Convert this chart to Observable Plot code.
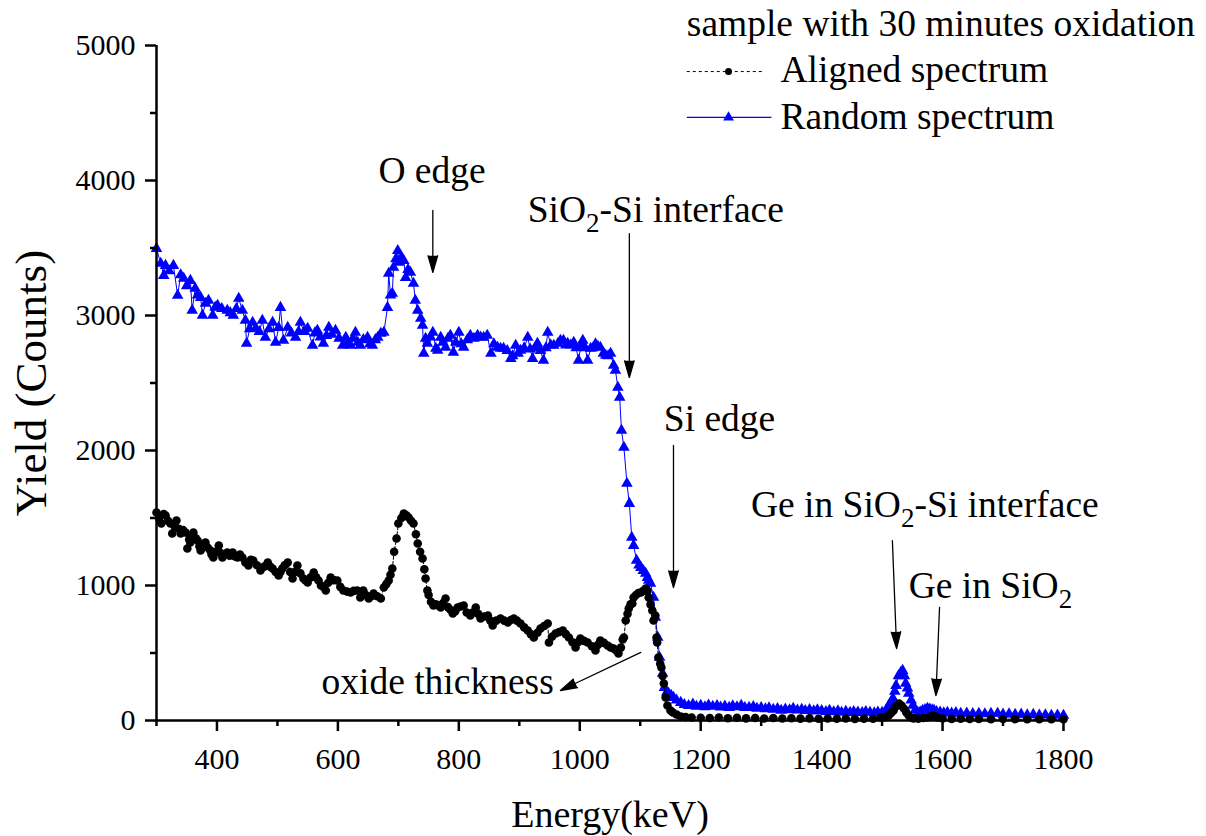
<!DOCTYPE html>
<html><head><meta charset="utf-8">
<script src="https://cdn.jsdelivr.net/npm/d3@7"></script>
<script src="https://cdn.jsdelivr.net/npm/@observablehq/plot@0.6"></script>
<style>
html,body{margin:0;padding:0;background:#fff;}
#chart{width:1206px;height:836px;overflow:hidden;}
#chart svg text{font-family:'Liberation Serif','Times New Roman',serif;}
</style></head><body><div id="chart"></div>
<script>
// Random spectrum: [energy keV, yield counts]
const randomSpectrum = [
[300,3496],[307,3385],[312,3296],[315,3370],[321,3330],[328,3370],[335,3148],[340,3300],[345,3274],[350,3220],
[356,3259],[359,3037],[364,3200],[368,3150],[373,3133],[376,3000],[381,3090],[386,3111],[393,3000],[397,3060],
[401,3074],[408,3050],[417,3037],[422,3020],[427,3000],[432,3050],[436,3126],[442,3037],[447,2963],[449,2793],
[454,2900],[459,2948],[464,2904],[470,2880],[475,2963],[480,2837],[486,2900],[492,2948],[497,2800],[502,2910],
[505,3059],[510,2815],[517,2911],[523,2870],[530,2837],[535,2880],[538,2948],[544,2880],[550,2904],[558,2778],
[562,2870],[566,2889],[571,2840],[576,2793],[581,2850],[585,2911],[590,2860],[596,2889],[602,2830],[608,2778],
[613,2837],[617,2800],[621,2778],[625,2830],[629,2874],[633,2800],[637,2778],[642,2820],[649,2837],[653,2790],
[657,2778],[662,2820],[666,2837],[671,2867],[676,2874],[682,3059],[684,3311],[687,3150],[690,3163],[692,3356],
[696,3420],[699,3481],[701,3393],[705,3430],[709,3407],[712,3281],[716,3340],[720,3319],[725,3237],[728,3111],
[732,3037],[737,2978],[740,2926],[742,2719],[745,2830],[748,2793],[753,2840],[757,2874],[762,2756],[765,2741],
[770,2837],[774,2800],[778,2763],[782,2830],[786,2852],[791,2726],[795,2800],[800,2874],[804,2790],[808,2763],
[814,2820],[819,2852],[825,2830],[831,2852],[836,2840],[841,2837],[847,2852],[853,2719],[858,2790],[864,2763],
[869,2756],[874,2756],[880,2740],[886,2681],[889,2700],[894,2778],[898,2720],[902,2741],[908,2760],[914,2837],
[918,2750],[922,2681],[926,2760],[930,2793],[935,2740],[940,2667],[944,2760],[947,2874],[952,2780],[957,2778],
[964,2793],[968,2815],[973,2815],[977,2780],[980,2793],[985,2780],[990,2800],[994,2760],[998,2667],[1002,2780],
[1005,2815],[1009,2760],[1013,2667],[1018,2756],[1022,2760],[1026,2790],[1030,2770],[1034,2763],[1039,2720],[1043,2704],
[1047,2700],[1051,2719],[1056,2630],[1059,2593],[1063,2467],[1066,2393],[1069,2148],[1073,2022],[1078,1756],[1082,1607],
[1086,1356],[1089,1296],[1094,1185],[1098,1150],[1101,1133],[1105,1110],[1109,1089],[1112,1059],[1114,1037],[1117,1015],
[1122,911],[1125,763],[1129,615],[1132,467],[1137,348],[1140,244],[1144,210],[1147,200],[1151,185],[1155,170],
[1160,150],[1167,133],[1173,118],[1180,110],[1187,120],[1193,105],[1200,111],[1207,100],[1213,114],[1220,104],
[1227,110],[1233,98],[1240,106],[1247,96],[1253,108],[1260,100],[1267,112],[1273,95],[1280,96],[1287,102],
[1293,90],[1300,95],[1307,86],[1313,93],[1320,82],[1327,88],[1333,74],[1340,84],[1347,78],[1353,90],
[1360,76],[1367,82],[1373,72],[1380,80],[1387,70],[1393,78],[1400,72],[1407,66],[1413,74],[1420,64],
[1427,70],[1433,60],[1440,68],[1447,59],[1453,66],[1460,62],[1467,58],[1473,65],[1480,60],[1487,56],
[1493,62],[1500,60],[1507,80],[1511,111],[1515,140],[1518,163],[1521,215],[1523,259],[1527,330],[1531,356],
[1534,370],[1537,330],[1539,274],[1542,240],[1544,200],[1548,150],[1551,111],[1555,80],[1559,59],[1563,62],
[1567,75],[1571,80],[1575,89],[1579,84],[1583,78],[1586,74],[1590,66],[1596,62],[1602,56],[1608,59],
[1615,54],[1622,58],[1630,52],[1640,55],[1650,50],[1660,53],[1670,48],[1680,52],[1691,52],[1700,46],
[1710,49],[1720,44],[1730,46],[1740,42],[1750,44],[1760,40],[1770,42],[1780,38],[1790,40],[1800,37]
];

// Aligned spectrum: [energy keV, yield counts]
const alignedSpectrum = [
[300,1541],[304,1500],[308,1459],[312,1530],[315,1519],[319,1480],[323,1459],[326,1385],[330,1440],[333,1481],
[337,1420],[340,1385],[344,1410],[348,1393],[351,1274],[354,1340],[356,1319],[359,1360],[361,1393],[365,1350],
[368,1333],[371,1290],[373,1259],[377,1300],[381,1319],[385,1280],[389,1259],[391,1230],[394,1207],[398,1250],
[403,1296],[406,1240],[409,1207],[413,1230],[417,1244],[421,1220],[426,1244],[430,1215],[434,1207],[438,1230],
[442,1207],[447,1170],[452,1148],[456,1190],[460,1185],[466,1150],[472,1111],[478,1140],[484,1170],[488,1140],
[492,1126],[497,1100],[502,1074],[505,1100],[508,1126],[512,1150],[517,1170],[521,1100],[525,1052],[529,1100],
[533,1148],[538,1090],[543,1052],[546,1040],[550,1022],[555,1060],[560,1096],[564,1060],[568,1037],[572,1000],
[576,990],[580,963],[584,1020],[588,1059],[593,1040],[599,1037],[604,990],[609,963],[615,955],[621,948],
[626,960],[632,963],[637,911],[642,963],[646,930],[651,904],[655,920],[659,941],[665,920],[671,904],
[676,985],[680,1010],[684,1037],[687,1080],[690,1126],[693,1250],[697,1348],[700,1459],[705,1500],[709,1533],
[713,1520],[717,1504],[721,1480],[725,1459],[729,1380],[732,1311],[736,1250],[740,1200],[743,1120],[745,1052],
[748,963],[750,930],[754,880],[758,852],[762,860],[766,852],[770,837],[774,870],[778,904],[782,840],
[786,820],[790,793],[794,810],[798,837],[803,845],[808,852],[813,800],[819,778],[823,800],[828,837],
[832,790],[836,756],[842,770],[848,778],[852,740],[856,704],[862,740],[869,756],[875,740],[881,726],
[886,745],[891,756],[896,740],[902,719],[908,690],[914,667],[919,640],[924,615],[930,650],[935,681],
[941,700],[947,719],[949,578],[954,620],[960,644],[966,655],[972,667],[977,640],[982,615],[988,580],
[993,541],[997,580],[1001,607],[1007,590],[1013,578],[1020,550],[1026,519],[1030,560],[1034,593],[1040,575],
[1046,556],[1051,541],[1056,533],[1060,520],[1064,496],[1068,540],[1071,600],[1073,615],[1076,741],[1079,790],
[1081,830],[1084,860],[1087,867],[1089,911],[1093,930],[1097,945],[1101,948],[1105,960],[1109,978],[1112,960],
[1114,911],[1117,860],[1120,815],[1122,741],[1125,778],[1127,615],[1128,578],[1130,467],[1133,420],[1135,393],
[1137,330],[1139,274],[1142,170],[1145,111],[1150,74],[1154,59],[1160,45],[1167,30],[1175,25],[1185,22],
[1200,20],[1215,18],[1230,22],[1245,17],[1260,20],[1275,16],[1290,19],[1305,15],[1320,18],[1335,15],
[1350,17],[1365,14],[1380,16],[1395,13],[1410,15],[1425,13],[1440,15],[1455,12],[1470,14],[1485,13],
[1498,22],[1505,25],[1511,37],[1515,55],[1519,74],[1523,105],[1528,126],[1532,110],[1536,89],[1540,60],
[1544,37],[1548,22],[1552,15],[1560,14],[1568,18],[1575,22],[1580,30],[1584,37],[1588,30],[1592,22],
[1600,15],[1615,12],[1630,13],[1645,11],[1660,12],[1680,10],[1700,11],[1720,10],[1740,9],[1760,10],
[1780,9],[1800,9]
];

// Axis ticks
const xMajorTicks = [400, 600, 800, 1000, 1200, 1400, 1600, 1800];
const xMinorTicks = [300, 500, 700, 900, 1100, 1300, 1500, 1700];
const yMajorTicks = [0, 1000, 2000, 3000, 4000, 5000];
const yMinorTicks = [500, 1500, 2500, 3500, 4500];
const xLabel = "Energy(keV)";
const yLabel = "Yield (Counts)";

// Annotations (data units); "_2" marks a subscript 2
const noteText = ["O edge", "SiO_2-Si interface", "Si edge", "Ge in SiO_2-Si interface", "Ge in SiO_2"];
const noteX = [667, 914, 1139, 1283, 1544];
const noteY = [3978, 3689, 2148, 1504, 904];
const oxideText = ["oxide thickness"];
const oxideX = [957];
const oxideY = [200];
const arrowX1 = [757, 1082, 1155, 1517, 1595, 1101];
const arrowY1 = [3778, 3607, 2037, 1333, 837, 504];
const arrowX2 = [757, 1082, 1155, 1524, 1589, 968];
const arrowY2 = [3319, 2541, 985, 533, 185, 222];

// Legend (data units)
const legendTitle = ["sample with 30 minutes oxidation"];
const legendTitleX = [1177];
const legendTitleY = [5074];
const legendLabels = ["Aligned spectrum", "Random spectrum"];
const legendTextX = [1332, 1332];
const legendTextY = [4726, 4385];
const legendLineX1 = [1177, 1177];
const legendLineX2 = [1304, 1317];
const legendLineY = [4807, 4467];
const legendMarkX = [1246, 1246];

const randomData = randomSpectrum.map(([energy, counts]) => ({energy, counts}));
const alignedData = alignedSpectrum.map(([energy, counts]) => ({energy, counts}));
const idx = (arr) => arr.map((_, i) => i);

const FONT = "'Liberation Serif', 'Times New Roman', serif";
const BLUE = "#0000ff";
const NOTE_SIZE = 37.5;

const chart = Plot.plot({
  width: 1206,
  height: 836,
  marginLeft: 156,
  marginRight: 143,
  marginTop: 45,
  marginBottom: 116,
  x: {domain: [300, 1800]},
  y: {domain: [0, 5000]},
  style: {fontFamily: FONT, fontSize: "30px", color: "black", background: "white", overflow: "visible"},
  marks: [
    // random spectrum
    Plot.line(randomData, {x: "energy", y: "counts", stroke: BLUE, strokeWidth: 1}),
    Plot.dot(randomData, {x: "energy", y: "counts", symbol: "triangle", r: 4.3, fill: BLUE, stroke: "none"}),
    // aligned spectrum
    Plot.line(alignedData, {x: "energy", y: "counts", stroke: "black", strokeWidth: 1, strokeDasharray: "3,2"}),
    Plot.dot(alignedData, {x: "energy", y: "counts", r: 4.3, fill: "black", stroke: "none"}),
    // axes
    Plot.axisX({ticks: xMajorTicks, tickSize: 11, tickPadding: 16, fontSize: 30, fontFamily: FONT, strokeWidth: 2.5, tickFormat: d => String(d), label: null}),
    Plot.axisX({ticks: xMinorTicks, tickSize: 6, strokeWidth: 2.5, text: null, label: null}),
    Plot.axisY({ticks: yMajorTicks, tickSize: 11, tickPadding: 10, fontSize: 30, fontFamily: FONT, strokeWidth: 2.5, tickFormat: d => String(d), label: null}),
    Plot.axisY({ticks: yMinorTicks, tickSize: 6, strokeWidth: 2.5, text: null, label: null}),
    Plot.ruleY([0], {stroke: "black", strokeWidth: 2.5}),
    Plot.ruleX([300], {stroke: "black", strokeWidth: 2.5}),
    Plot.text([xLabel], {frameAnchor: "bottom", text: d => d, lineAnchor: "bottom", textAnchor: "middle", dy: 106, fontSize: 38}),
    Plot.text([yLabel], {frameAnchor: "left", text: d => d, rotate: -90, lineAnchor: "middle", textAnchor: "middle", dx: -125, fontSize: 45}),
    // annotations
    Plot.arrow(idx(arrowX1), {x1: i => arrowX1[i], y1: i => arrowY1[i], x2: i => arrowX2[i], y2: i => arrowY2[i],
      stroke: "black", fill: "black", strokeWidth: 1.3, headLength: 20, headAngle: 32}),
    Plot.text(idx(noteText), {x: i => noteX[i], y: i => noteY[i], text: i => noteText[i], textAnchor: "start", lineAnchor: "bottom", fontSize: NOTE_SIZE}),
    Plot.text(idx(oxideText), {x: i => oxideX[i], y: i => oxideY[i], text: i => oxideText[i], textAnchor: "end", lineAnchor: "bottom", fontSize: NOTE_SIZE}),
    // legend
    Plot.text(legendTitle, {x: legendTitleX, y: legendTitleY, text: d => d, textAnchor: "start", lineAnchor: "bottom", fontSize: NOTE_SIZE}),
    Plot.link([0], {x1: legendLineX1[0], x2: legendLineX2[0], y1: legendLineY[0], y2: legendLineY[0], stroke: "black", strokeWidth: 1, strokeDasharray: "3,3"}),
    Plot.link([1], {x1: legendLineX1[1], x2: legendLineX2[1], y1: legendLineY[1], y2: legendLineY[1], stroke: BLUE, strokeWidth: 1.2}),
    Plot.dot([0], {x: legendMarkX[0], y: legendLineY[0], r: 3.5, fill: "black"}),
    Plot.dot([1], {x: legendMarkX[1], y: legendLineY[1], symbol: "triangle", r: 4, fill: BLUE}),
    Plot.text(idx(legendLabels), {x: i => legendTextX[i], y: i => legendTextY[i], text: i => legendLabels[i], textAnchor: "start", lineAnchor: "bottom", fontSize: NOTE_SIZE})
  ]
});

// Render "_2" as a lowered subscript 2
const SVGNS = "http://www.w3.org/2000/svg";
chart.querySelectorAll("text").forEach(t => {
  if (!t.textContent.includes("_2")) return;
  const [a, b] = t.textContent.split("_2");
  t.textContent = "";
  t.appendChild(document.createTextNode(a));
  const sub = document.createElementNS(SVGNS, "tspan");
  sub.setAttribute("dy", "10");
  sub.setAttribute("font-size", "27");
  sub.textContent = "2";
  t.appendChild(sub);
  const rest = document.createElementNS(SVGNS, "tspan");
  rest.setAttribute("dy", "-10");
  rest.textContent = b;
  t.appendChild(rest);
});

document.getElementById("chart").appendChild(chart);
</script>
</body></html>
